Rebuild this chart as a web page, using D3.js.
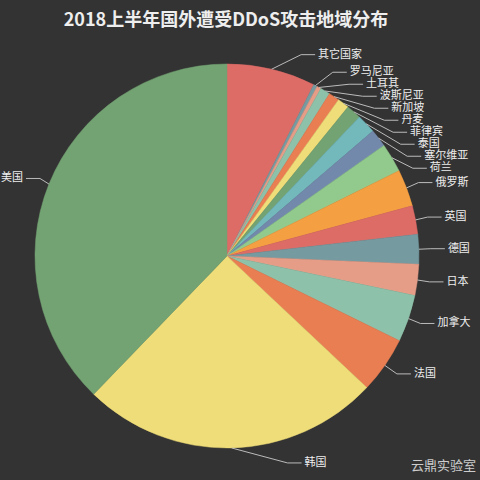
<!DOCTYPE html>
<html>
<head>
<meta charset="utf-8">
<script src="https://cdn.jsdelivr.net/npm/d3@7"></script>
<style>
  html, body { margin: 0; padding: 0; background: #333; }
  svg { display: block; }
</style>
</head>
<body>
<div id="chart"></div>
<script>
// Data (clockwise from 12 o'clock, share in %)
const countries = ["其它国家", "罗马尼亚", "土耳其", "波斯尼亚", "新加坡", "丹麦", "菲律宾", "泰国",
  "塞尔维亚", "荷兰", "俄罗斯", "英国", "德国", "日本", "加拿大", "法国", "韩国", "美国"];
const shares = [7.46, 0.31, 0.36, 0.83, 0.91, 0.98, 1.26, 1.62,
  1.5, 2.44, 3.12, 2.4, 2.5, 2.61, 3.97, 4.75, 25.2, 37.78];
const palette = ["#dd6b66", "#759aa0", "#e69d87", "#8dc1a9", "#ea7e53", "#eedd78",
  "#73a373", "#73b9bc", "#7289ab", "#91ca8c", "#f49f42"];
const title = "2018上半年国外遭受DDoS攻击地域分布";
const watermark = "云鼎实验室";

const width = 480, height = 480;
const cx = 227, cy = 256, r = 192;
const len1 = 15, len2 = 14, labelH = 12;
const font = "'Noto Sans CJK SC', 'Noto Sans', sans-serif";

const data = countries.map((c, i) => ({ name: c, value: shares[i] }));

const svg = d3.select("#chart").append("svg")
    .attr("width", width)
    .attr("height", height);

svg.append("rect")
    .attr("width", width)
    .attr("height", height)
    .attr("fill", "#333");

// Title
svg.append("text")
    .attr("x", 226)
    .attr("y", 21)
    .attr("text-anchor", "middle")
    .attr("dominant-baseline", "middle")
    .attr("fill", "#eee")
    .attr("font-family", font)
    .attr("font-weight", "bold")
    .attr("font-size", 18)
    .text(title);

const color = d3.scaleOrdinal().domain(countries).range(palette);

const pie = d3.pie().sort(null).value(d => d.value);
const arcs = pie(data);
const arc = d3.arc().innerRadius(0).outerRadius(r);

const g = svg.append("g").attr("transform", `translate(${cx},${cy})`);

g.selectAll("path.slice")
    .data(arcs)
    .enter().append("path")
    .attr("class", "slice")
    .attr("d", arc)
    .attr("fill", d => color(d.data.name))
    .attr("stroke", d => color(d.data.name))
    .attr("stroke-width", 0.5);

// Label layout: push crowded labels down, then slide them along a circle
const labels = arcs.map(d => {
  const mid = (d.startAngle + d.endAngle) / 2;
  const sx = Math.sin(mid), sy = -Math.cos(mid);
  const dir = sx < 0 ? -1 : 1;
  return {
    name: d.data.name,
    dir: dir,
    p1: [cx + r * sx, cy + r * sy],
    x: cx + (r + len1) * sx + dir * (len2 + 5),
    y: cy + (r + len1) * sy
  };
});

function adjustSide(list, dir) {
  list.sort((a, b) => a.y - b.y);
  for (let i = 1; i < list.length; i++) {
    if (list[i].y < list[i - 1].y + labelH) list[i].y = list[i - 1].y + labelH;
  }
  const R = r + len1 + len2;
  list.forEach(l => {
    const dy = Math.abs(l.y - cy);
    const dx = dy < r + len1 ? Math.sqrt(R * R - dy * dy) : Math.abs(l.x - cx);
    l.x = cx + dx * dir;
  });
}

adjustSide(labels.filter(l => l.dir > 0), 1);
adjustSide(labels.filter(l => l.dir < 0), -1);

// keep left-hand text inside the picture
labels.forEach(l => {
  if (l.dir < 0) l.x = Math.max(l.x, 23);
  const x3 = l.x - 3 * l.dir;
  l.points = [l.p1, [x3 - len2 * l.dir, l.y], [x3, l.y]];
});

const line = d3.line();

svg.append("g").selectAll("path")
    .data(labels)
    .enter().append("path")
    .attr("d", d => line(d.points))
    .attr("fill", "none")
    .attr("stroke", "#bbb")
    .attr("stroke-width", 1);

svg.append("g").selectAll("text")
    .data(labels)
    .enter().append("text")
    .attr("x", d => d.x)
    .attr("y", d => d.y)
    .attr("text-anchor", d => d.dir > 0 ? "start" : "end")
    .attr("dominant-baseline", "middle")
    .attr("fill", "#eee")
    .attr("font-family", font)
    .attr("font-size", 11)
    .text(d => d.name);

// Watermark
svg.append("text")
    .attr("x", 476)
    .attr("y", 466)
    .attr("text-anchor", "end")
    .attr("dominant-baseline", "middle")
    .attr("fill", "#ccc")
    .attr("font-family", font)
    .attr("font-size", 13)
    .text(watermark);
</script>
</body>
</html>
